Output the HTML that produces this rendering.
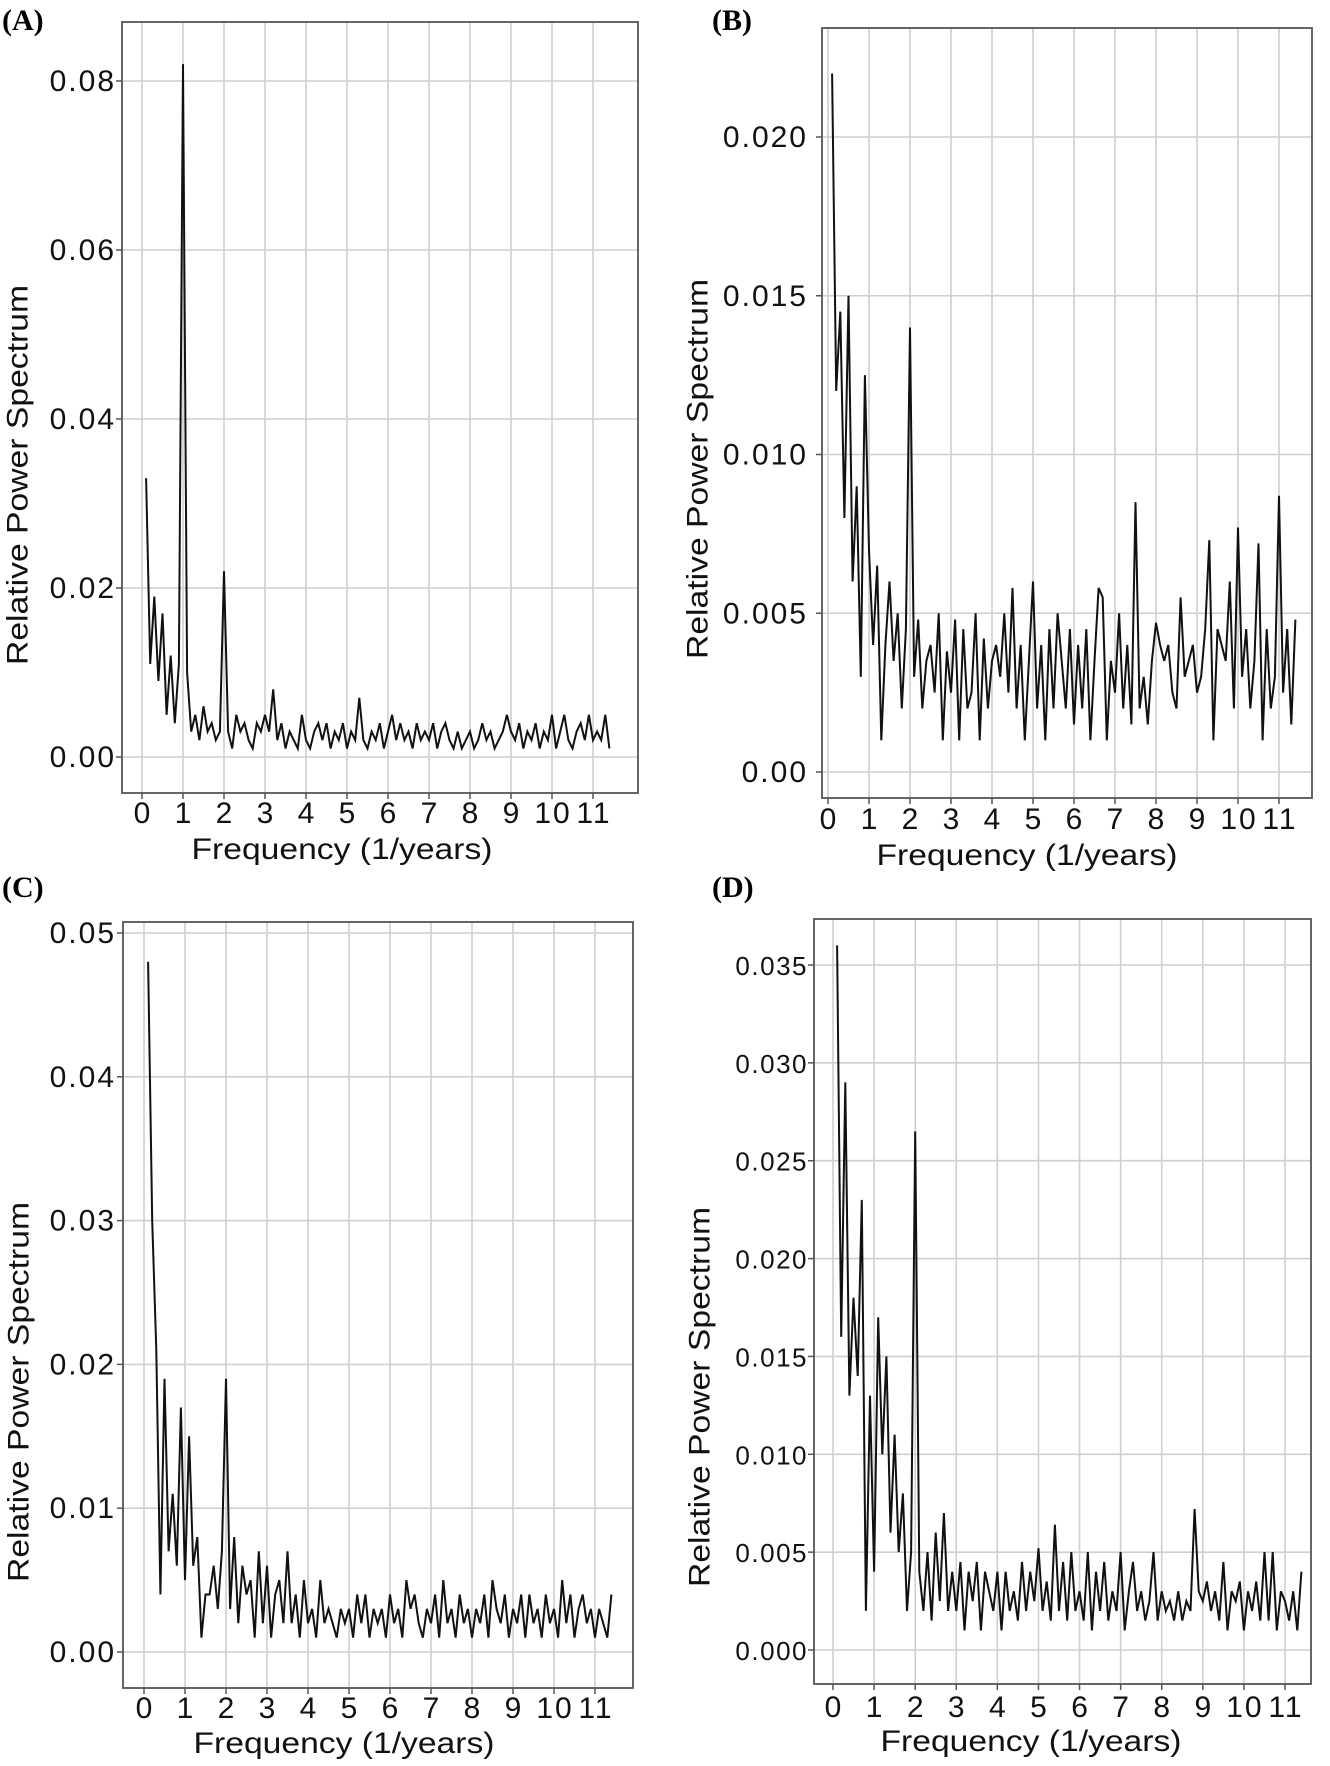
<!DOCTYPE html>
<html>
<head>
<meta charset="utf-8">
<style>
  html,body{margin:0;padding:0;background:#fff;}
  svg{display:block;}
  .tick{font-family:"Liberation Sans",sans-serif;font-size:30px;letter-spacing:2px;fill:#111;}
  .title{font-family:"Liberation Sans",sans-serif;font-size:30px;fill:#111;}
  .plabel{font-family:"Liberation Serif",serif;font-size:30px;font-weight:bold;fill:#000;}
</style>
</head>
<body>
<svg id="chart" width="1330" height="1766" viewBox="0 0 1330 1766" xmlns="http://www.w3.org/2000/svg"></svg>
<script>
// ---- data (relative power at frequencies 0.1, 0.2, ... 11.4 per 1/years) ----
const freqStep = 0.1;
const xTicks = [0,1,2,3,4,5,6,7,8,9,10,11];
const seriesA = [
 .033,.011,.019,.009,.017,.005,.012,.004,.011,.082,
 .010,.003,.005,.002,.006,.003,.004,.002,.003,.022,
 .003,.001,.005,.003,.004,.002,.001,.004,.003,.005,
 .003,.008,.002,.004,.001,.003,.002,.001,.005,.002,
 .001,.003,.004,.002,.004,.001,.003,.002,.004,.001,
 .003,.002,.007,.002,.001,.003,.002,.004,.001,.003,
 .005,.002,.004,.002,.003,.001,.004,.002,.003,.002,
 .004,.001,.003,.004,.002,.001,.003,.001,.002,.003,
 .001,.002,.004,.002,.003,.001,.002,.003,.005,.003,
 .002,.004,.001,.003,.002,.004,.001,.003,.002,.005,
 .001,.003,.005,.002,.001,.003,.004,.002,.005,.002,
 .003,.002,.005,.001];
const seriesB = [
 .022,.012,.0145,.008,.015,.006,.009,.003,.0125,.007,
 .004,.0065,.001,.004,.006,.0035,.005,.002,.0045,.014,
 .003,.0048,.002,.0035,.004,.0025,.005,.001,.0038,.0025,
 .0048,.001,.0045,.002,.0025,.005,.001,.0042,.002,.0035,
 .004,.003,.005,.0025,.0058,.002,.004,.001,.0035,.006,
 .002,.004,.001,.0045,.002,.005,.0035,.002,.0045,.0015,
 .004,.002,.0045,.001,.0035,.0058,.0055,.001,.0035,.0025,
 .005,.002,.004,.0015,.0085,.002,.003,.0015,.0035,.0047,
 .004,.0035,.004,.0025,.002,.0055,.003,.0035,.004,.0025,
 .003,.0045,.0073,.001,.0045,.004,.0035,.006,.002,.0077,
 .003,.0045,.002,.0035,.0072,.001,.0045,.002,.003,.0087,
 .0025,.0045,.0015,.0048];
const seriesC = [
 .048,.030,.021,.004,.019,.007,.011,.006,.017,.005,
 .015,.006,.008,.001,.004,.004,.006,.003,.007,.019,
 .003,.008,.002,.006,.004,.005,.001,.007,.002,.006,
 .001,.004,.005,.002,.007,.002,.004,.001,.005,.002,
 .003,.001,.005,.002,.003,.002,.001,.003,.002,.003,
 .001,.004,.002,.004,.001,.003,.002,.003,.001,.004,
 .002,.003,.001,.005,.003,.004,.002,.001,.003,.002,
 .004,.001,.005,.002,.003,.001,.004,.002,.003,.001,
 .003,.002,.004,.001,.005,.003,.002,.004,.001,.003,
 .002,.004,.001,.004,.002,.003,.001,.004,.002,.003,
 .001,.005,.002,.004,.001,.003,.004,.002,.003,.001,
 .003,.002,.001,.004];
const seriesD = [
 .036,.016,.029,.013,.018,.014,.023,.002,.013,.004,
 .017,.010,.015,.006,.011,.005,.008,.002,.005,.0265,
 .004,.002,.005,.0015,.006,.0025,.007,.002,.004,.002,
 .0045,.001,.004,.0025,.0045,.001,.004,.003,.002,.004,
 .001,.004,.002,.003,.0015,.0045,.002,.004,.0025,.0052,
 .002,.0035,.0015,.0064,.002,.0045,.0015,.005,.002,.003,
 .0015,.005,.001,.004,.002,.0045,.0015,.003,.002,.005,
 .001,.003,.0045,.002,.003,.0015,.0025,.005,.0015,.003,
 .002,.0025,.0015,.003,.0015,.0025,.002,.0072,.003,.0025,
 .0035,.002,.003,.0015,.0045,.001,.003,.0025,.0035,.001,
 .003,.002,.0035,.0015,.005,.0015,.005,.001,.003,.0025,
 .0015,.003,.001,.004];
const yTicksA = ["0.00","0.02","0.04","0.06","0.08"];
const yTicksB = ["0.00","0.005","0.010","0.015","0.020"];
const yTicksC = ["0.00","0.01","0.02","0.03","0.04","0.05"];
const yTicksD = ["0.000","0.005","0.010","0.015","0.020","0.025","0.030","0.035"];

const NS = "http://www.w3.org/2000/svg";
const svg = document.getElementById('chart');
function mk(tag, attrs, parent){
  const e = document.createElementNS(NS, tag);
  for (const k in attrs) e.setAttribute(k, attrs[k]);
  (parent||svg).appendChild(e);
  return e;
}

const panels = [
  {id:'a', label:'(A)', lx:2, ly:30, box:[122,22,638,793], x0:142, x11:593, yPix0:757, yPixTop:81, ticks:yTicksA, data:seriesA, tickY:823, titleY:859, ytX:17, ytY:475, xtC:342, yOff:6, yFont:30, ySp:2},
  {id:'b', label:'(B)', lx:712, ly:30, box:[822,28,1312,798], x0:828, x11:1279, yPix0:772, yPixTop:137, ticks:yTicksB, data:seriesB, tickY:829, titleY:865, ytX:697, ytY:469, xtC:1027, yOff:14, yFont:30, ySp:2},
  {id:'c', label:'(C)', lx:2, ly:897, box:[123,922,633,1688], x0:144, x11:595, yPix0:1652, yPixTop:933, ticks:yTicksC, data:seriesC, tickY:1718, titleY:1753, ytX:18, ytY:1392, xtC:344, yOff:7, yFont:30, ySp:2},
  {id:'d', label:'(D)', lx:712, ly:897, box:[814,919,1311,1684], x0:833, x11:1285, yPix0:1650, yPixTop:965, ticks:yTicksD, data:seriesD, tickY:1717, titleY:1751, ytX:699, ytY:1397, xtC:1031, yOff:6, yFont:26, ySp:1.5}
];

panels.forEach(p => {
  const g = mk('g', {});
  
  
  const topVal = parseFloat(p.ticks[p.ticks.length-1]);
  const xS = v => p.x0 + (p.x11 - p.x0) * v / 11;
  const yS = v => p.yPix0 - (p.yPix0 - p.yPixTop) * v / topVal;
  const [L,T,R,B] = p.box;

  const lab = mk('text', {x:p.lx, y:p.ly, class:'plabel'}, g);
  lab.textContent = p.label;
  
  

  const grid = mk('g', {}, g);
  
  
  xTicks.forEach(t => mk('line', {x1:xS(t), x2:xS(t), y1:T, y2:B, stroke:'#cfcfcf', 'stroke-width':1.6}, grid));
  p.ticks.forEach(t => { const y = yS(parseFloat(t)); mk('line', {x1:L, x2:R, y1:y, y2:y, stroke:'#cfcfcf', 'stroke-width':1.6}, grid); });

  const box = mk('rect', {x:L, y:T, width:R-L, height:B-T, fill:'none', stroke:'#555', 'stroke-width':1.8}, g);
  
  

  const xa = mk('g', {}, g);
  
  
  xTicks.forEach(t => {
    mk('line', {x1:xS(t), x2:xS(t), y1:B, y2:B+6, stroke:'#555', 'stroke-width':1.5}, xa);
    const tx = mk('text', {x:xS(t)+1, y:p.tickY, 'text-anchor':'middle', class:'tick'}, xa);
    tx.textContent = t;
    
    
  });
  const xt = mk('text', {x:p.xtC, y:p.titleY, 'text-anchor':'middle', class:'title', textLength:301, lengthAdjust:'spacingAndGlyphs'}, g);
  xt.textContent = 'Frequency (1/years)';
  
  

  const ya = mk('g', {}, g);
  
  
  p.ticks.forEach(t => {
    const y = yS(parseFloat(t));
    mk('line', {x1:L-6, x2:L, y1:y, y2:y, stroke:'#555', 'stroke-width':1.5}, ya);
    const ty = mk('text', {x:L-p.yOff, y:y+10, 'text-anchor':'end', class:'tick', style:'font-size:'+p.yFont+'px;letter-spacing:'+p.ySp+'px'}, ya);
    ty.textContent = t;
    
    
  });
  const cy = p.ytY;
  const yt = mk('text', {x:p.ytX, y:cy, 'text-anchor':'middle', class:'title', transform:'rotate(-90 '+p.ytX+' '+cy+')', dy:'0.35em', textLength:380, lengthAdjust:'spacingAndGlyphs'}, g);
  yt.textContent = 'Relative Power Spectrum';
  
  

  const pts = p.data.map((v,i) => xS((i+1)*freqStep).toFixed(1) + ',' + yS(v).toFixed(1)).join(' ');
  const line = mk('polyline', {points:pts, fill:'none', stroke:'#111', 'stroke-width':2, 'stroke-linejoin':'miter'}, g);
  
  
});
</script>
</body>
</html>
